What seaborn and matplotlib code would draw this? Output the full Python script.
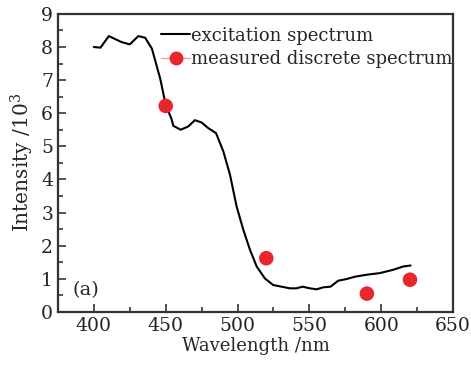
import numpy as np
import pandas as pd
import seaborn as sns
import matplotlib.pyplot as plt
from matplotlib.lines import Line2D
from matplotlib.ticker import MultipleLocator

# excitation spectrum
wl_exc = [400, 404.6, 410.4, 419.2, 425, 431, 435.7, 440.4, 446.2, 450, 454,
          455.3, 460.4, 465.7, 470.3, 475, 479.6, 485, 490, 494.7, 499.3, 504,
          508.6, 513.3, 519, 524.8, 530.6, 536.4, 541, 545.2, 550.3, 555, 559.6,
          564.7, 570, 575.8, 581.6, 589.7, 599, 608.3, 615.3, 620.4]
int_exc = [8.0, 7.98, 8.33, 8.15, 8.08, 8.33, 8.28, 7.95, 7.04, 6.25, 5.83,
           5.62, 5.5, 5.6, 5.79, 5.72, 5.55, 5.4, 4.86, 4.15, 3.19, 2.48,
           1.88, 1.37, 1.01, 0.81, 0.76, 0.71, 0.71, 0.76, 0.71, 0.68, 0.74,
           0.76, 0.94, 0.99, 1.06, 1.12, 1.17, 1.27, 1.37, 1.40]

# measured discrete spectrum
wl_meas = [450, 520, 590, 620]
int_meas = [6.22, 1.62, 0.55, 0.97]

RED = "#e8262b"

sns.set_theme(style="ticks")
plt.rcParams["font.family"] = ["DejaVu Serif"]
plt.rcParams["mathtext.fontset"] = "dejavuserif"

fig = plt.figure(figsize=(4.71, 3.66), dpi=100)
ax = fig.add_axes([0.123, 0.148, 0.839, 0.814])

exc = pd.DataFrame({"wl": wl_exc, "I": int_exc})
meas = pd.DataFrame({"wl": wl_meas, "I": int_meas})

sns.lineplot(data=exc, x="wl", y="I", ax=ax, color="black", lw=1.5, sort=False)
sns.scatterplot(data=meas, x="wl", y="I", ax=ax, color=RED, s=110,
                edgecolor="none", zorder=3)

ax.set_xlim(375, 650)
ax.set_ylim(0, 9)
ax.xaxis.set_major_locator(MultipleLocator(50))
ax.xaxis.set_minor_locator(MultipleLocator(25))
ax.yaxis.set_major_locator(MultipleLocator(1))
ax.yaxis.set_minor_locator(MultipleLocator(0.5))
ax.tick_params(which="major", direction="in", length=6, width=1.1,
               labelsize=13.5, colors="#222222", top=False, right=False)
ax.tick_params(which="minor", direction="in", length=3.5, width=1.1,
               top=False, right=False)
for s in ax.spines.values():
    s.set_linewidth(1.6)
    s.set_color("#333333")

ax.set_xlabel("Wavelength /nm", fontsize=13, labelpad=2)
ax.set_ylabel("Intensity /10$^3$", fontsize=14.5, labelpad=4)

ax.text(385, 0.5, "(a)", fontsize=14)

line_h = Line2D([], [], color="black", lw=1.5)
red_line = Line2D([], [], color=RED, lw=1.0, alpha=0.45)
red_dot = Line2D([], [], ls="none", marker="o", markersize=10,
                 markerfacecolor=RED, markeredgecolor="none")
ax.legend([line_h, (red_line, red_dot)],
          ["excitation spectrum", "measured discrete spectrum"],
          loc="upper left", bbox_to_anchor=(0.23, 1.0), frameon=False,
          fontsize=13, handlelength=1.6, handletextpad=0.05,
          labelspacing=0.3, borderaxespad=0.3)

fig.savefig("out.png", dpi=100, facecolor="white")
